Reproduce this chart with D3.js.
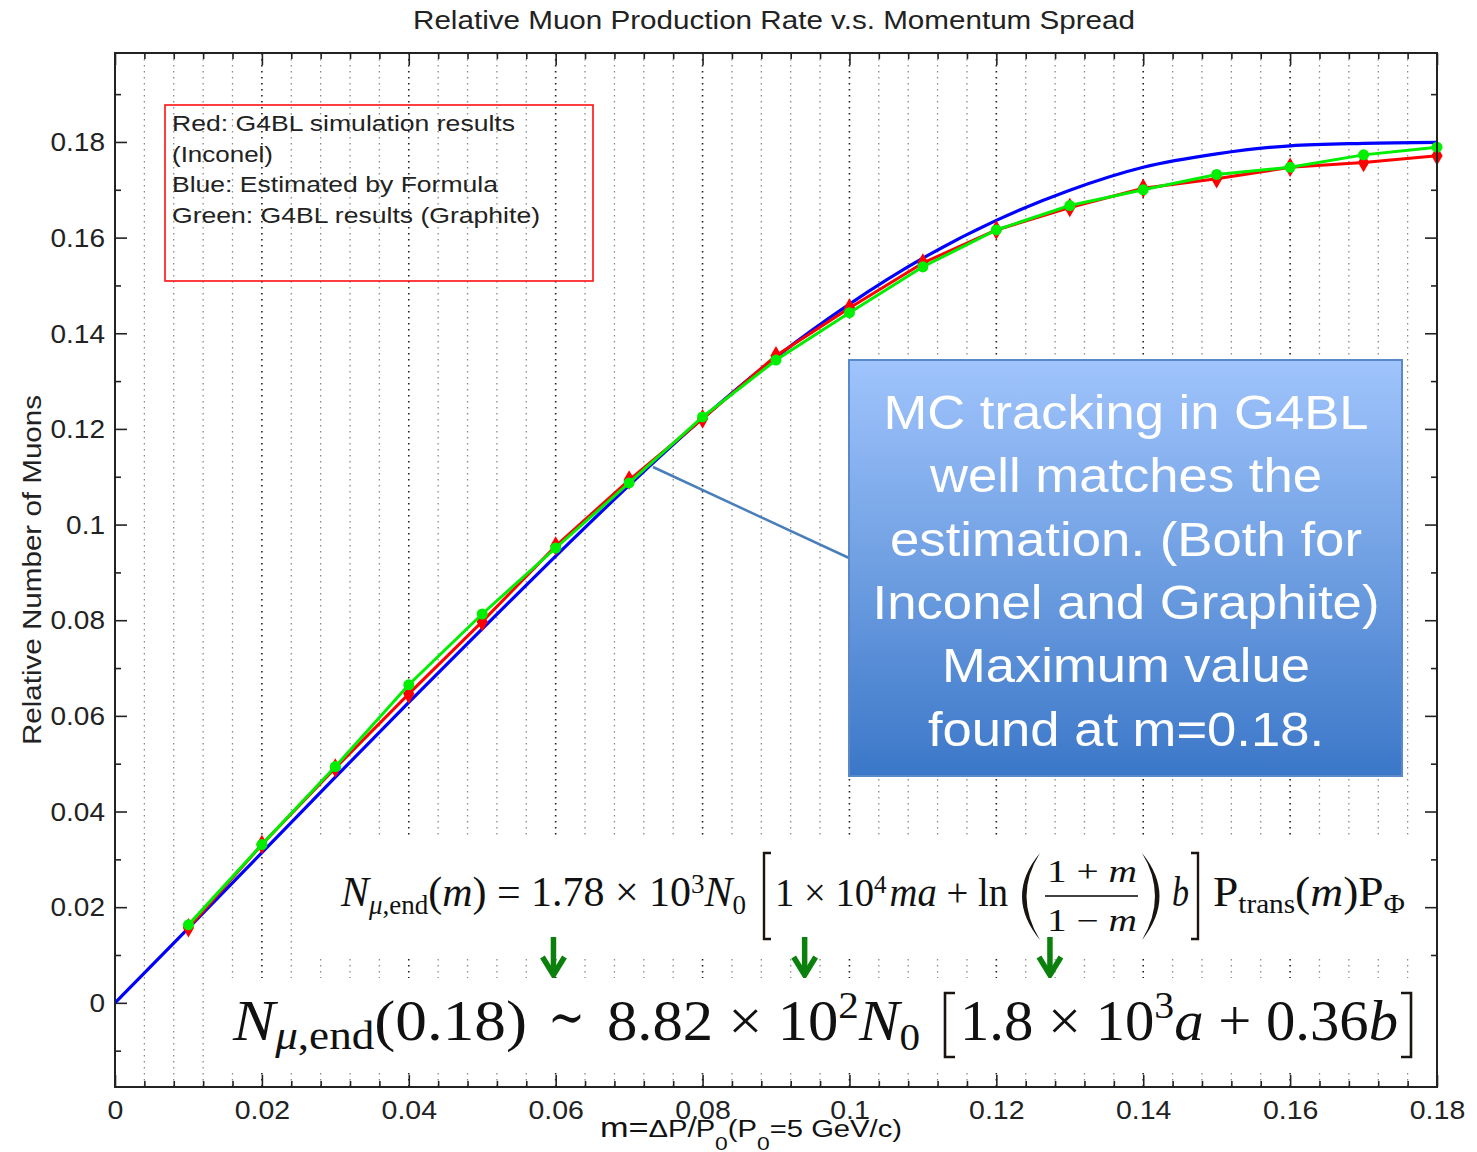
<!DOCTYPE html>
<html>
<head>
<meta charset="utf-8">
<script src="https://cdn.jsdelivr.net/npm/d3@7"></script>
<style>
  html, body { margin: 0; padding: 0; background: #fff; }
  svg { display: block; }
</style>
</head>
<body>
<script>
// ---- data -------------------------------------------------------------
// momentum spread m at which the formula estimate is tabulated
const blueM = [0, 0.01, 0.02, 0.03, 0.04, 0.05, 0.06, 0.07, 0.08, 0.09, 0.10, 0.11, 0.12, 0.13, 0.14, 0.15, 0.16, 0.17, 0.18];
// Blue: estimated by formula
const blueN = [0, 0.0156, 0.0314, 0.0472, 0.0628, 0.0782, 0.0934, 0.1082, 0.1222, 0.1350, 0.1461, 0.1557, 0.1636, 0.1699, 0.1747, 0.1775, 0.1792, 0.1797, 0.1799];
// momentum spread m of the G4BL simulation runs
const simM = [0.01, 0.02, 0.03, 0.04, 0.05, 0.06, 0.07, 0.08, 0.09, 0.10, 0.11, 0.12, 0.13, 0.14, 0.15, 0.16, 0.17, 0.18];
// Red: G4BL simulation results (Inconel)
const redN = [0.0157, 0.0331, 0.0491, 0.0646, 0.0797, 0.0955, 0.1093, 0.1221, 0.1353, 0.1453, 0.1547, 0.1616, 0.1663, 0.1703, 0.1723, 0.1747, 0.1757, 0.1771];
// Green: G4BL results (Graphite)
const greenN = [0.0163, 0.0331, 0.0494, 0.0665, 0.0813, 0.0951, 0.1087, 0.1225, 0.1344, 0.1443, 0.1539, 0.1616, 0.1667, 0.1700, 0.1732, 0.1747, 0.1773, 0.1789];

// tick values and labels
const xTicks = [0, 0.02, 0.04, 0.06, 0.08, 0.10, 0.12, 0.14, 0.16, 0.18];
const xTickLabels = ["0", "0.02", "0.04", "0.06", "0.08", "0.1", "0.12", "0.14", "0.16", "0.18"];
const yTicks = [0, 0.02, 0.04, 0.06, 0.08, 0.10, 0.12, 0.14, 0.16, 0.18];
const yTickLabels = ["0", "0.02", "0.04", "0.06", "0.08", "0.1", "0.12", "0.14", "0.16", "0.18"];
const yMinorTicks = [-0.01, 0.01, 0.03, 0.05, 0.07, 0.09, 0.11, 0.13, 0.15, 0.17, 0.19];

const legendLines = ["Red: G4BL simulation results", "(Inconel)", "Blue: Estimated by Formula", "Green: G4BL results (Graphite)"];
const legendWidths = [343, 101, 326, 368];
const calloutLines = ["MC tracking in G4BL", "well matches the", "estimation. (Both for", "Inconel and Graphite)", "Maximum value", "found at m=0.18."];
const calloutWidths = [485, 392, 472, 507, 368, 396];
// where the green arrows point along m
const arrowM = [0.0597, 0.0939, 0.1273];

// ---- layout -----------------------------------------------------------
const W = 1477, H = 1152;
const L = 115, R = 1437, T = 53, B = 1087;
const SANS = "'Liberation Sans', Arial, Helvetica, sans-serif";
const SERIF = "'Liberation Serif', 'DejaVu Serif', serif";

const x = d3.scaleLinear().domain([0, 0.18]).range([L, R]);
const y = d3.scaleLinear().domain([-0.0176, 0.1986]).range([B, T]);

const svg = d3.select("body").append("svg").attr("width", W).attr("height", H);
svg.append("rect").attr("width", W).attr("height", H).attr("fill", "#fff");

const defs = svg.append("defs");
const grad = defs.append("linearGradient").attr("id", "calloutFill")
  .attr("x1", 0).attr("y1", 0).attr("x2", 0).attr("y2", 1);
grad.append("stop").attr("offset", "0%").attr("stop-color", "#a0c4fc");
grad.append("stop").attr("offset", "50%").attr("stop-color", "#6f9fe2");
grad.append("stop").attr("offset", "100%").attr("stop-color", "#3b77c8");

function fitWidth(sel, w) {
  sel.attr("textLength", w).attr("lengthAdjust", "spacingAndGlyphs");
}
function stretch(sel, k) {
  sel.each(function () {
    const w = this.getComputedTextLength();
    this.setAttribute("textLength", w * k);
    this.setAttribute("lengthAdjust", "spacingAndGlyphs");
  });
}

// ---- vertical dotted grid ----------------------------------------------
const gridM = d3.range(1, 45).map(k => k * 0.004);
svg.append("g").selectAll("line").data(gridM).join("line")
  .attr("x1", d => x(d)).attr("x2", d => x(d))
  .attr("y1", T).attr("y2", B)
  .attr("stroke", (d, i) => (i + 1) % 5 === 0 ? "#222" : "#8a8a8a")
  .attr("stroke-width", (d, i) => (i + 1) % 5 === 0 ? 1.6 : 1.3)
  .attr("stroke-dasharray", "1.6,4.4");

// ---- axes ---------------------------------------------------------------
const xMinor = gridM.filter((d, i) => (i + 1) % 5 !== 0);

function axisGroup(axis, tx, ty) {
  const g = svg.append("g").attr("transform", `translate(${tx},${ty})`).call(axis);
  g.select(".domain").remove();
  g.selectAll(".tick line").attr("stroke", "#222").attr("stroke-width", 1.6);
  return g;
}

const gBottom = axisGroup(d3.axisBottom(x).tickValues(xTicks).tickSize(-12).tickPadding(0)
  .tickFormat((d, i) => xTickLabels[i]), 0, B);
gBottom.selectAll(".tick text").attr("y", 32).attr("dy", 0)
  .attr("font-family", SANS).attr("font-size", 25).attr("fill", "#222");
stretch(gBottom.selectAll(".tick text"), 1.14);
axisGroup(d3.axisBottom(x).tickValues(xMinor).tickSize(-6).tickFormat(""), 0, B);
axisGroup(d3.axisTop(x).tickValues(xTicks).tickSize(-12).tickFormat(""), 0, T);
axisGroup(d3.axisTop(x).tickValues(xMinor).tickSize(-6).tickFormat(""), 0, T);

const gLeft = axisGroup(d3.axisLeft(y).tickValues(yTicks).tickSize(-12).tickPadding(10)
  .tickFormat((d, i) => yTickLabels[i]), L, 0);
gLeft.selectAll(".tick text").attr("dy", "0.35em")
  .attr("font-family", SANS).attr("font-size", 25).attr("fill", "#222");
stretch(gLeft.selectAll(".tick text"), 1.12);
axisGroup(d3.axisLeft(y).tickValues(yMinorTicks).tickSize(-6).tickFormat(""), L, 0);
axisGroup(d3.axisRight(y).tickValues(yTicks).tickSize(-12).tickFormat(""), R, 0);
axisGroup(d3.axisRight(y).tickValues(yMinorTicks).tickSize(-6).tickFormat(""), R, 0);

// ---- series -------------------------------------------------------------
const plot = svg.append("g");
const blueLine = d3.line().x((d, i) => x(blueM[i])).y(d => y(d)).curve(d3.curveMonotoneX);
const simLine = d3.line().x((d, i) => x(simM[i])).y(d => y(d));

plot.append("path").datum(blueN).attr("d", blueLine)
  .attr("fill", "none").attr("stroke", "#0000ff").attr("stroke-width", 3.2);

plot.append("path").datum(redN).attr("d", simLine)
  .attr("fill", "none").attr("stroke", "#ff0000").attr("stroke-width", 3);
plot.append("g").selectAll("path").data(redN).join("path")
  .attr("transform", (d, i) => `translate(${x(simM[i])},${y(d)})`)
  .attr("d", d3.symbol(d3.symbolDiamond, 110))
  .attr("fill", "#ff0000");

plot.append("path").datum(greenN).attr("d", simLine)
  .attr("fill", "none").attr("stroke", "#00ee00").attr("stroke-width", 3);
plot.append("g").selectAll("circle").data(greenN).join("circle")
  .attr("cx", (d, i) => x(simM[i])).attr("cy", d => y(d)).attr("r", 5.5)
  .attr("fill", "#00ee00");

// ---- frame --------------------------------------------------------------
svg.append("rect").attr("x", L).attr("y", T).attr("width", R - L).attr("height", B - T)
  .attr("fill", "none").attr("stroke", "#222").attr("stroke-width", 2);

// ---- titles -------------------------------------------------------------
svg.append("text").attr("x", (L + R) / 2 - 2).attr("y", 29).attr("text-anchor", "middle")
  .attr("font-family", SANS).attr("font-size", 25).attr("fill", "#222")
  .text("Relative Muon Production Rate v.s. Momentum Spread")
  .call(fitWidth, 722);

svg.append("text").attr("transform", `translate(41,${(T + B) / 2}) rotate(-90)`)
  .attr("text-anchor", "middle")
  .attr("font-family", SANS).attr("font-size", 26).attr("fill", "#222")
  .text("Relative Number of Muons")
  .call(fitWidth, 350);

// ---- legend box ---------------------------------------------------------
svg.append("rect").attr("x", 165).attr("y", 105).attr("width", 428).attr("height", 176)
  .attr("fill", "none").attr("stroke", "#ff1010").attr("stroke-width", 1.6);
svg.append("g").selectAll("text").data(legendLines).join("text")
  .attr("x", 172).attr("y", (d, i) => 131 + i * 30.7)
  .attr("font-family", SANS).attr("font-size", 22.5).attr("fill", "#222")
  .text(d => d)
  .each(function (d, i) { d3.select(this).call(fitWidth, legendWidths[i]); });

// ---- callout --------------------------------------------------------------
svg.append("line").attr("x1", 653).attr("y1", 467).attr("x2", 849).attr("y2", 558)
  .attr("stroke", "#4a7ebb").attr("stroke-width", 2.5);
svg.append("rect").attr("x", 849).attr("y", 360).attr("width", 553).attr("height", 416)
  .attr("fill", "url(#calloutFill)").attr("stroke", "#5a88c8").attr("stroke-width", 2);
svg.append("g").selectAll("text").data(calloutLines).join("text")
  .attr("x", 1126).attr("y", (d, i) => 429 + i * 63.3).attr("text-anchor", "middle")
  .attr("font-family", SANS).attr("font-size", 49).attr("fill", "#fff")
  .text(d => d)
  .each(function (d, i) { d3.select(this).call(fitWidth, calloutWidths[i]); });

// ---- formula helpers ----------------------------------------------------
function mathText(g, x0, y0, size, segs, width, opts = {}) {
  const t = g.append("text").attr("x", x0).attr("y", y0)
    .attr("font-family", SERIF).attr("font-size", size).attr("fill", opts.fill || "#111");
  if (opts.anchor) t.attr("text-anchor", opts.anchor);
  let shift = 0;
  const subOff = opts.subOff || size * 0.2, supOff = opts.supOff || -size * 0.36;
  const smallSize = opts.small || size * 0.66;
  segs.forEach(s => {
    const target = s.sub ? subOff : s.sup ? supOff : 0;
    const ts = t.append("tspan").text(s.t).attr("dy", target - shift);
    shift = target;
    if (s.dx) ts.attr("dx", s.dx);
    if (s.sub || s.sup) ts.attr("font-size", smallSize);
    if (s.it) ts.attr("font-style", "italic");
  });
  if (width) t.call(fitWidth, width);
  return t;
}
function bracket(g, xEdge, xSerif, y1, y2, w) {
  g.append("path")
    .attr("d", `M${xSerif},${y1}H${xEdge}V${y2}H${xSerif}`)
    .attr("fill", "none").attr("stroke", "#1a1410").attr("stroke-width", w);
}

// ---- general formula --------------------------------------------------
const f1 = svg.append("g");
f1.append("rect").attr("x", 318).attr("y", 835).attr("width", 1102).attr("height", 122).attr("fill", "#fff");
mathText(f1, 341, 906, 42, [
  { t: "N", it: 1 }, { t: "μ", sub: 1, it: 1 }, { t: ",end", sub: 1 }, { t: "(" }, { t: "m", it: 1 },
  { t: ") = 1.78 × 10" }, { t: "3", sup: 1 }, { t: "N", it: 1 }, { t: "0", sub: 1 }
], 405, { subOff: 8, supOff: -13, small: 27 });
bracket(f1, 764, 771, 853, 939, 2.4);
mathText(f1, 775, 906, 40, [
  { t: "1 × 10" }, { t: "4", sup: 1 }, { t: "ma", it: 1, dx: 3 }, { t: " + ln" }
], 233, { supOff: -13, small: 26 });
// large parentheses around the fraction
f1.append("path").attr("d", "M1040,853 Q1004,896 1040,940 Q1013,896 1040,853Z").attr("fill", "#1a1410");
f1.append("path").attr("d", "M1142,853 Q1177,896 1142,940 Q1168,896 1142,853Z").attr("fill", "#1a1410");
mathText(f1, 1092, 882, 31, [{ t: "1 + " }, { t: "m", it: 1 }], 90, { anchor: "middle" });
f1.append("line").attr("x1", 1045).attr("x2", 1138).attr("y1", 896).attr("y2", 896)
  .attr("stroke", "#444").attr("stroke-width", 2);
mathText(f1, 1092, 931, 31, [{ t: "1 − " }, { t: "m", it: 1 }], 90, { anchor: "middle" });
mathText(f1, 1172, 906, 42, [{ t: "b", it: 1 }], 17);
bracket(f1, 1198, 1191, 853, 939, 2.4);
mathText(f1, 1213, 906, 42, [
  { t: "P" }, { t: "trans", sub: 1 }, { t: "(" }, { t: "m", it: 1 }, { t: ")P" }, { t: "Φ", sub: 1 }
], 192, { subOff: 7, small: 27 });

// ---- arrows -------------------------------------------------------------
const arrows = svg.append("g").attr("stroke", "#0c800c").attr("fill", "none")
  .attr("stroke-width", 5.5);
arrowM.forEach(m => {
  const ax = x(m);
  arrows.append("line").attr("x1", ax).attr("x2", ax).attr("y1", 937).attr("y2", 972);
  arrows.append("path").attr("d", `M${ax - 11},957L${ax},975L${ax + 11},957`)
    .attr("stroke-linejoin", "miter");
});

// ---- value at the maximum -------------------------------------------
const f2 = svg.append("g");
f2.append("rect").attr("x", 220).attr("y", 978).attr("width", 1216).attr("height", 92).attr("fill", "#fff");
mathText(f2, 233, 1040, 56, [
  { t: "N", it: 1 }, { t: "μ", sub: 1, it: 1 }, { t: ",end", sub: 1 }, { t: "(0.18)" }
], 294, { subOff: 9, small: 40 });
f2.append("text").attr("x", 548).attr("y", 1036).attr("font-family", SERIF)
  .attr("font-size", 56).attr("fill", "#111").text("∼").call(fitWidth, 37);
mathText(f2, 607, 1040, 56, [
  { t: "8.82 × 10" }, { t: "2", sup: 1 }, { t: "N", it: 1 }, { t: "0", sub: 1 }
], 313, { subOff: 10, supOff: -22, small: 38 });
bracket(f2, 945, 955, 993, 1057, 2.6);
mathText(f2, 960, 1040, 56, [
  { t: "1.8 × 10" }, { t: "3", sup: 1 }, { t: "a", it: 1 }, { t: " + 0.36" }, { t: "b", it: 1 }
], 438, { supOff: -22, small: 38 });
bracket(f2, 1411, 1401, 993, 1057, 2.6);

// ---- x-axis label -------------------------------------------------------
const xl = svg.append("text").attr("x", 600).attr("y", 1137)
  .attr("font-family", SANS).attr("fill", "#111");
xl.append("tspan").attr("font-size", 27).text("m=");
xl.append("tspan").attr("font-size", 23).text("ΔP/P");
xl.append("tspan").attr("font-size", 18).attr("dy", 13).text("0");
xl.append("tspan").attr("font-size", 23).attr("dy", -13).text("(P");
xl.append("tspan").attr("font-size", 18).attr("dy", 13).text("0");
xl.append("tspan").attr("font-size", 23).attr("dy", -13).text("=5 GeV/c)");
xl.call(fitWidth, 302);
</script>
</body>
</html>
